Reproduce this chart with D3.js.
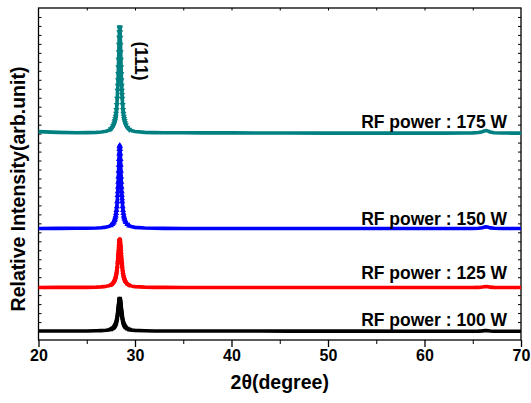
<!DOCTYPE html>
<meta charset="utf-8">
<style>
  body { margin: 0; background: #fff; }
  .lbl { font: bold 17.5px "Liberation Sans", Arial, sans-serif; fill: #000; }
  .title { font: bold 19.5px "Liberation Sans", Arial, sans-serif; fill: #000; }
  .tick text { font: bold 16px "Liberation Sans", Arial, sans-serif; }
</style>
<svg width="531" height="403"></svg>
<script src="https://d3js.org/d3.v7.min.js"></script>
<script>

// 2theta grid (degrees)
var twoTheta = [20, 22, 24, 25, 26, 26.5, 27, 27.3, 27.5, 27.65, 27.75, 27.82, 27.88, 27.92, 27.96,
  28.0, 28.04, 28.08, 28.12, 28.16, 28.2, 28.22, 28.24, 28.26, 28.28, 28.3, 28.32, 28.34, 28.36, 28.38,
  28.4, 28.42, 28.44, 28.46, 28.48, 28.5, 28.52, 28.54, 28.56, 28.58, 28.6, 28.62, 28.64, 28.66, 28.68,
  28.72, 28.76, 28.8, 28.84, 28.88, 28.92, 28.98, 29.05, 29.2, 29.4, 29.7, 30, 31, 32, 33,
  35, 37, 40, 43, 46, 50, 54, 58, 62, 64, 65, 65.6, 66.0, 66.2, 66.4, 66.6, 66.8, 67.2, 68, 69, 70];

// intensities (arb. units, already offset for stacking)
var p100 = [100, 100, 101, 101, 103, 105, 108, 113, 119, 127, 135, 142, 151, 158, 167,
  177, 190, 206, 226, 250, 280, 297, 316, 335, 356, 378, 398, 418, 435, 448,
  457, 460, 457, 448, 435, 418, 398, 378, 356, 335, 316, 297, 280, 265, 250,
  226, 206, 190, 177, 167, 158, 148, 139, 127, 117, 110, 107, 103, 101, 101,
  100, 100, 100, 100, 99, 99, 99, 98, 98, 98, 98, 99, 102, 104, 105, 103, 100, 98, 97, 97, 97];

var p125 = [585, 586, 586, 587, 589, 592, 598, 605, 614, 625, 637, 648, 661, 672, 685,
  700, 719, 743, 772, 808, 853, 878, 905, 935, 966, 997, 1029, 1057, 1083, 1103,
  1116, 1120, 1116, 1103, 1083, 1057, 1029, 997, 966, 935, 905, 878, 853, 829, 808,
  772, 743, 719, 700, 685, 672, 657, 643, 624, 611, 600, 595, 589, 587, 586,
  585, 585, 585, 585, 585, 585, 585, 585, 585, 585, 585, 586, 590, 594, 596, 593, 589, 586, 585, 585, 585];

var p150 = [1243, 1244, 1245, 1246, 1248, 1251, 1258, 1266, 1277, 1291, 1305, 1319, 1336, 1349, 1366,
  1386, 1412, 1446, 1488, 1543, 1614, 1656, 1706, 1760, 1819, 1883, 1950, 2015, 2076, 2125,
  2157, 2168, 2157, 2125, 2076, 2015, 1950, 1883, 1819, 1760, 1706, 1656, 1614, 1576, 1543,
  1488, 1446, 1412, 1386, 1366, 1349, 1330, 1313, 1290, 1273, 1261, 1255, 1248, 1245, 1244,
  1243, 1243, 1243, 1243, 1243, 1243, 1243, 1243, 1243, 1243, 1243, 1245, 1252, 1258, 1261, 1257, 1250, 1245, 1243, 1243, 1243];

var p175 = [2322, 2314, 2310, 2311, 2314, 2318, 2327, 2338, 2352, 2369, 2387, 2405, 2426, 2443, 2465,
  2491, 2524, 2566, 2621, 2690, 2781, 2835, 2898, 2968, 3043, 3125, 3210, 3293, 3370, 3433,
  3474, 3488, 3474, 3433, 3370, 3293, 3210, 3125, 3043, 2968, 2898, 2835, 2781, 2733, 2690,
  2621, 2566, 2524, 2491, 2465, 2444, 2418, 2397, 2368, 2347, 2331, 2323, 2314, 2311, 2310,
  2309, 2308, 2308, 2307, 2307, 2306, 2306, 2306, 2306, 2307, 2308, 2312, 2322, 2330, 2334, 2328, 2318, 2310, 2307, 2306, 2306];

var seriesNames = ["RF power : 100 W", "RF power : 125 W", "RF power : 150 W", "RF power : 175 W"];
var seriesColors = ["#000000", "#ff0000", "#0000ff", "#008080"];
var labelLevel = [155, 675, 1280, 2360];   // where each label baseline sits
var xTicks = [20, 30, 40, 50, 60, 70];

var series = [p100, p125, p150, p175];

var svg = d3.select("svg"),
    mLeft = 38.5, mRight = 521, mTop = 8, mBottom = 340;

var x = d3.scaleLinear().domain([20, 70]).range([mLeft, mRight]);
var y = d3.scaleLinear().domain([0, 3700]).range([mBottom, mTop]);

// frame
svg.append("rect")
    .attr("x", mLeft).attr("y", mTop)
    .attr("width", mRight - mLeft).attr("height", mBottom - mTop)
    .attr("fill", "none").attr("stroke", "#000").attr("stroke-width", 1.3);

// bottom axis
var xAxis = svg.append("g")
    .attr("transform", "translate(0," + mBottom + ")")
    .call(d3.axisBottom(x).tickValues(xTicks).tickSize(7).tickPadding(3).tickFormat(d3.format("d")));
xAxis.select(".domain").remove();
xAxis.selectAll("line").attr("stroke-width", 1.3);

svg.append("g")
    .attr("transform", "translate(0," + mBottom + ")")
    .call(d3.axisBottom(x).tickValues(d3.range(25, 70, 10)).tickSize(4).tickFormat(""))
    .call(function (g) { g.select(".domain").remove(); });

// top axis ticks (inward)
svg.append("g")
    .attr("transform", "translate(0," + mTop + ")")
    .call(d3.axisBottom(x).tickValues(d3.range(25, 70, 5)).tickSize(2.5).tickFormat(""))
    .call(function (g) { g.select(".domain").remove(); });

// left and right ticks (inward)
var yTicks = d3.range(100, 3700, 100);
svg.append("g")
    .attr("transform", "translate(" + mLeft + ",0)")
    .call(d3.axisRight(y).tickValues(yTicks).tickSize(3).tickFormat(""))
    .call(function (g) { g.select(".domain").remove(); });
svg.append("g")
    .attr("transform", "translate(" + mRight + ",0)")
    .call(d3.axisLeft(y).tickValues(yTicks).tickSize(3).tickFormat(""))
    .call(function (g) { g.select(".domain").remove(); });

// curves
var line = d3.line()
    .x(function (d) { return x(d[0]); })
    .y(function (d) { return y(d[1]); });

var shapes = [d3.symbolSquare, d3.symbolCircle, d3.symbolTriangle, d3.symbolTriangle];
var rot = [0, 0, 0, 180];

series.forEach(function (vals, i) {
    var pts = twoTheta.map(function (t, j) { return [t, vals[j]]; });
    svg.append("path")
        .datum(pts)
        .attr("d", line)
        .attr("fill", "none")
        .attr("stroke", seriesColors[i])
        .attr("stroke-width", 3.6)
        .attr("stroke-linejoin", "round");

    svg.append("g").selectAll("path")
        .data(pts.filter(function (d) { return d[0] > 27.4 && d[0] < 29.5; }))
        .join("path")
        .attr("d", d3.symbol().type(shapes[i]).size(16))
        .attr("transform", function (d) {
            return "translate(" + x(d[0]) + "," + y(d[1]) + ") rotate(" + rot[i] + ")";
        })
        .attr("fill", seriesColors[i]);

    svg.append("text")
        .attr("class", "lbl")
        .attr("x", 507)
        .attr("y", y(labelLevel[i]))
        .attr("text-anchor", "end")
        .text(seriesNames[i]);
});

// peak index
svg.append("text")
    .attr("class", "lbl")
    .attr("transform", "translate(134.5,61) rotate(90)")
    .attr("text-anchor", "middle")
    .text("(111)");

// axis titles
svg.append("text")
    .attr("class", "title")
    .attr("x", (mLeft + mRight) / 2)
    .attr("y", 389)
    .attr("text-anchor", "middle")
    .text("2θ(degree)");

svg.append("text")
    .attr("class", "title")
    .attr("transform", "translate(25," + 189 + ") rotate(-90)")
    .attr("text-anchor", "middle")
    .text("Relative Intensity(arb.unit)");

</script>
